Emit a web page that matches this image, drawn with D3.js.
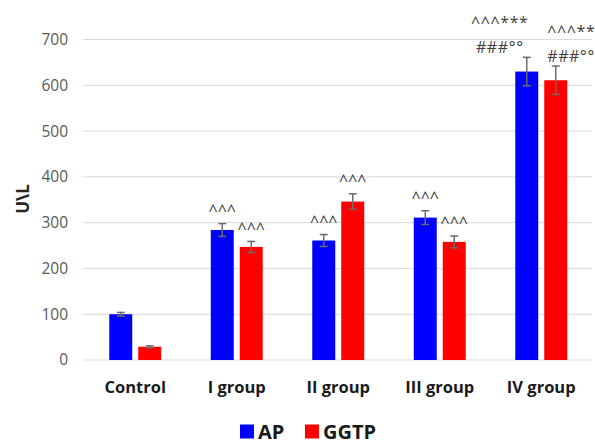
<!DOCTYPE html>
<html>
<head>
<meta charset="utf-8">
<script src="https://cdn.jsdelivr.net/npm/d3@7"></script>
<style>
  html, body { margin: 0; padding: 0; background: #fff; }
  svg { display: block; }
  text { font-family: "Open Sans", "DejaVu Sans", sans-serif; }
</style>
</head>
<body>
<svg id="chart" width="595" height="441"></svg>
<script>
// Enzyme activity by group
const groups = ["Control", "I group", "II group", "III group", "IV group"];
const seriesNames = ["AP", "GGTP"];
const apValues = [100, 284, 261, 311, 630];
const apErrors = [4, 14, 13, 15, 31];
const ggtpValues = [29, 247, 346, 258, 611];
const ggtpErrors = [2, 12, 17, 13, 31];
const apMarks = [[], ["^^^"], ["^^^"], ["^^^"], ["^^^***", "###°°"]];
const ggtpMarks = [[], ["^^^"], ["^^^"], ["^^^"], ["^^^***", "###°°"]];
const yTicks = [0, 100, 200, 300, 400, 500, 600, 700];
const yTitle = "U\\L";

const colors = { AP: "#0000ff", GGTP: "#ff0000" };

const rows = groups.map((g, i) => ({
  group: g,
  bars: [
    { key: "AP", value: apValues[i], err: apErrors[i], marks: apMarks[i] },
    { key: "GGTP", value: ggtpValues[i], err: ggtpErrors[i], marks: ggtpMarks[i] }
  ]
}));

const svg = d3.select("#chart");

const x0 = d3.scaleBand()
  .domain(groups)
  .range([84.5, 592])
  .paddingInner(0.488)
  .paddingOuter(0.244);

const x1 = d3.scaleBand()
  .domain(seriesNames)
  .range([0, x0.bandwidth()])
  .paddingInner(0.207)
  .paddingOuter(0);

const y = d3.scaleLinear().domain([0, 700]).range([360, 39.5]);

// Horizontal gridlines
svg.append("g")
  .selectAll("line")
  .data(yTicks)
  .join("line")
  .attr("x1", 83)
  .attr("x2", 592)
  .attr("y1", d => y(d))
  .attr("y2", d => y(d))
  .attr("stroke", "#d9d9d9")
  .attr("stroke-width", 1);

// Y axis tick labels
const yAxis = d3.axisLeft(y).tickValues(yTicks).tickSize(0).tickPadding(0);
const yg = svg.append("g").attr("transform", "translate(68,0)").call(yAxis);
yg.select(".domain").remove();
yg.selectAll("text")
  .attr("font-family", "Open Sans")
  .attr("font-size", 15.5)
  .attr("fill", "#595959");

// Y axis title
svg.append("text")
  .attr("transform", "translate(22,199) rotate(-90)")
  .attr("text-anchor", "middle")
  .attr("dominant-baseline", "central")
  .attr("font-size", 17)
  .attr("font-weight", "bold")
  .attr("fill", "#262626")
  .text(yTitle);

// Bars
const gGroups = svg.append("g")
  .selectAll("g")
  .data(rows)
  .join("g")
  .attr("transform", d => `translate(${x0(d.group)},0)`);

gGroups.selectAll("rect")
  .data(d => d.bars)
  .join("rect")
  .attr("x", d => x1(d.key))
  .attr("width", x1.bandwidth())
  .attr("y", d => y(d.value))
  .attr("height", d => y(0) - y(d.value))
  .attr("fill", d => colors[d.key]);

// Error bars
const eb = gGroups.selectAll("g.err")
  .data(d => d.bars)
  .join("g")
  .attr("class", "err")
  .attr("transform", d => `translate(${x1(d.key) + x1.bandwidth() / 2},0)`)
  .attr("stroke", "#6b6b6b")
  .attr("stroke-width", 1.5);
eb.append("line")
  .attr("y1", d => y(d.value + d.err))
  .attr("y2", d => y(d.value - d.err));
eb.append("line")
  .attr("x1", -4).attr("x2", 4)
  .attr("y1", d => y(d.value + d.err))
  .attr("y2", d => y(d.value + d.err));
eb.append("line")
  .attr("x1", -4).attr("x2", 4)
  .attr("y1", d => y(d.value - d.err))
  .attr("y2", d => y(d.value - d.err));

// Significance marks above the bars
gGroups.each(function (row) {
  const g = d3.select(this);
  row.bars.forEach((b, bi) => {
    if (!b.marks.length) return;
    const cx = x1(b.key) + x1.bandwidth() / 2;
    const top = y(b.value + b.err);
    const multi = b.marks.length > 1;
    let tx = cx, anchor = "middle";
    if (multi) {
      // stacked marks sit beside the pair of bars
      if (bi === 0) { tx = cx - 27; anchor = "middle"; }
      else { tx = x1(b.key) + 3; anchor = "start"; }
    }
    const base = multi ? top - 4 : top - 7.5;
    b.marks.slice().reverse().forEach((m, k) => {
      g.append("text")
        .attr("x", tx)
        .attr("y", base - k * 25)
        .attr("text-anchor", anchor)
        .attr("font-size", 16)
        .attr("letter-spacing", multi ? 0.6 : 0)
        .attr("fill", "#404040")
        .text(m);
    });
  });
});

// Category labels
svg.append("g")
  .selectAll("text")
  .data(groups)
  .join("text")
  .attr("x", d => x0(d) + x0.bandwidth() / 2)
  .attr("y", 393)
  .attr("text-anchor", "middle")
  .attr("font-size", 16.5)
  .attr("font-weight", "bold")
  .attr("fill", "#1a1a1a")
  .text(d => d);

// Legend
const legend = svg.append("g");
const legendItems = [
  { key: "AP", x: 240 },
  { key: "GGTP", x: 305 }
];
const li = legend.selectAll("g")
  .data(legendItems)
  .join("g")
  .attr("transform", d => `translate(${d.x},0)`);
li.append("rect")
  .attr("y", 424.5)
  .attr("width", 14)
  .attr("height", 14)
  .attr("fill", d => colors[d.key]);
li.append("text")
  .attr("x", 18)
  .attr("y", 439)
  .attr("font-size", 20)
  .attr("font-weight", "bold")
  .attr("fill", "#1a1a1a")
  .text(d => d.key);
</script>
</body>
</html>
